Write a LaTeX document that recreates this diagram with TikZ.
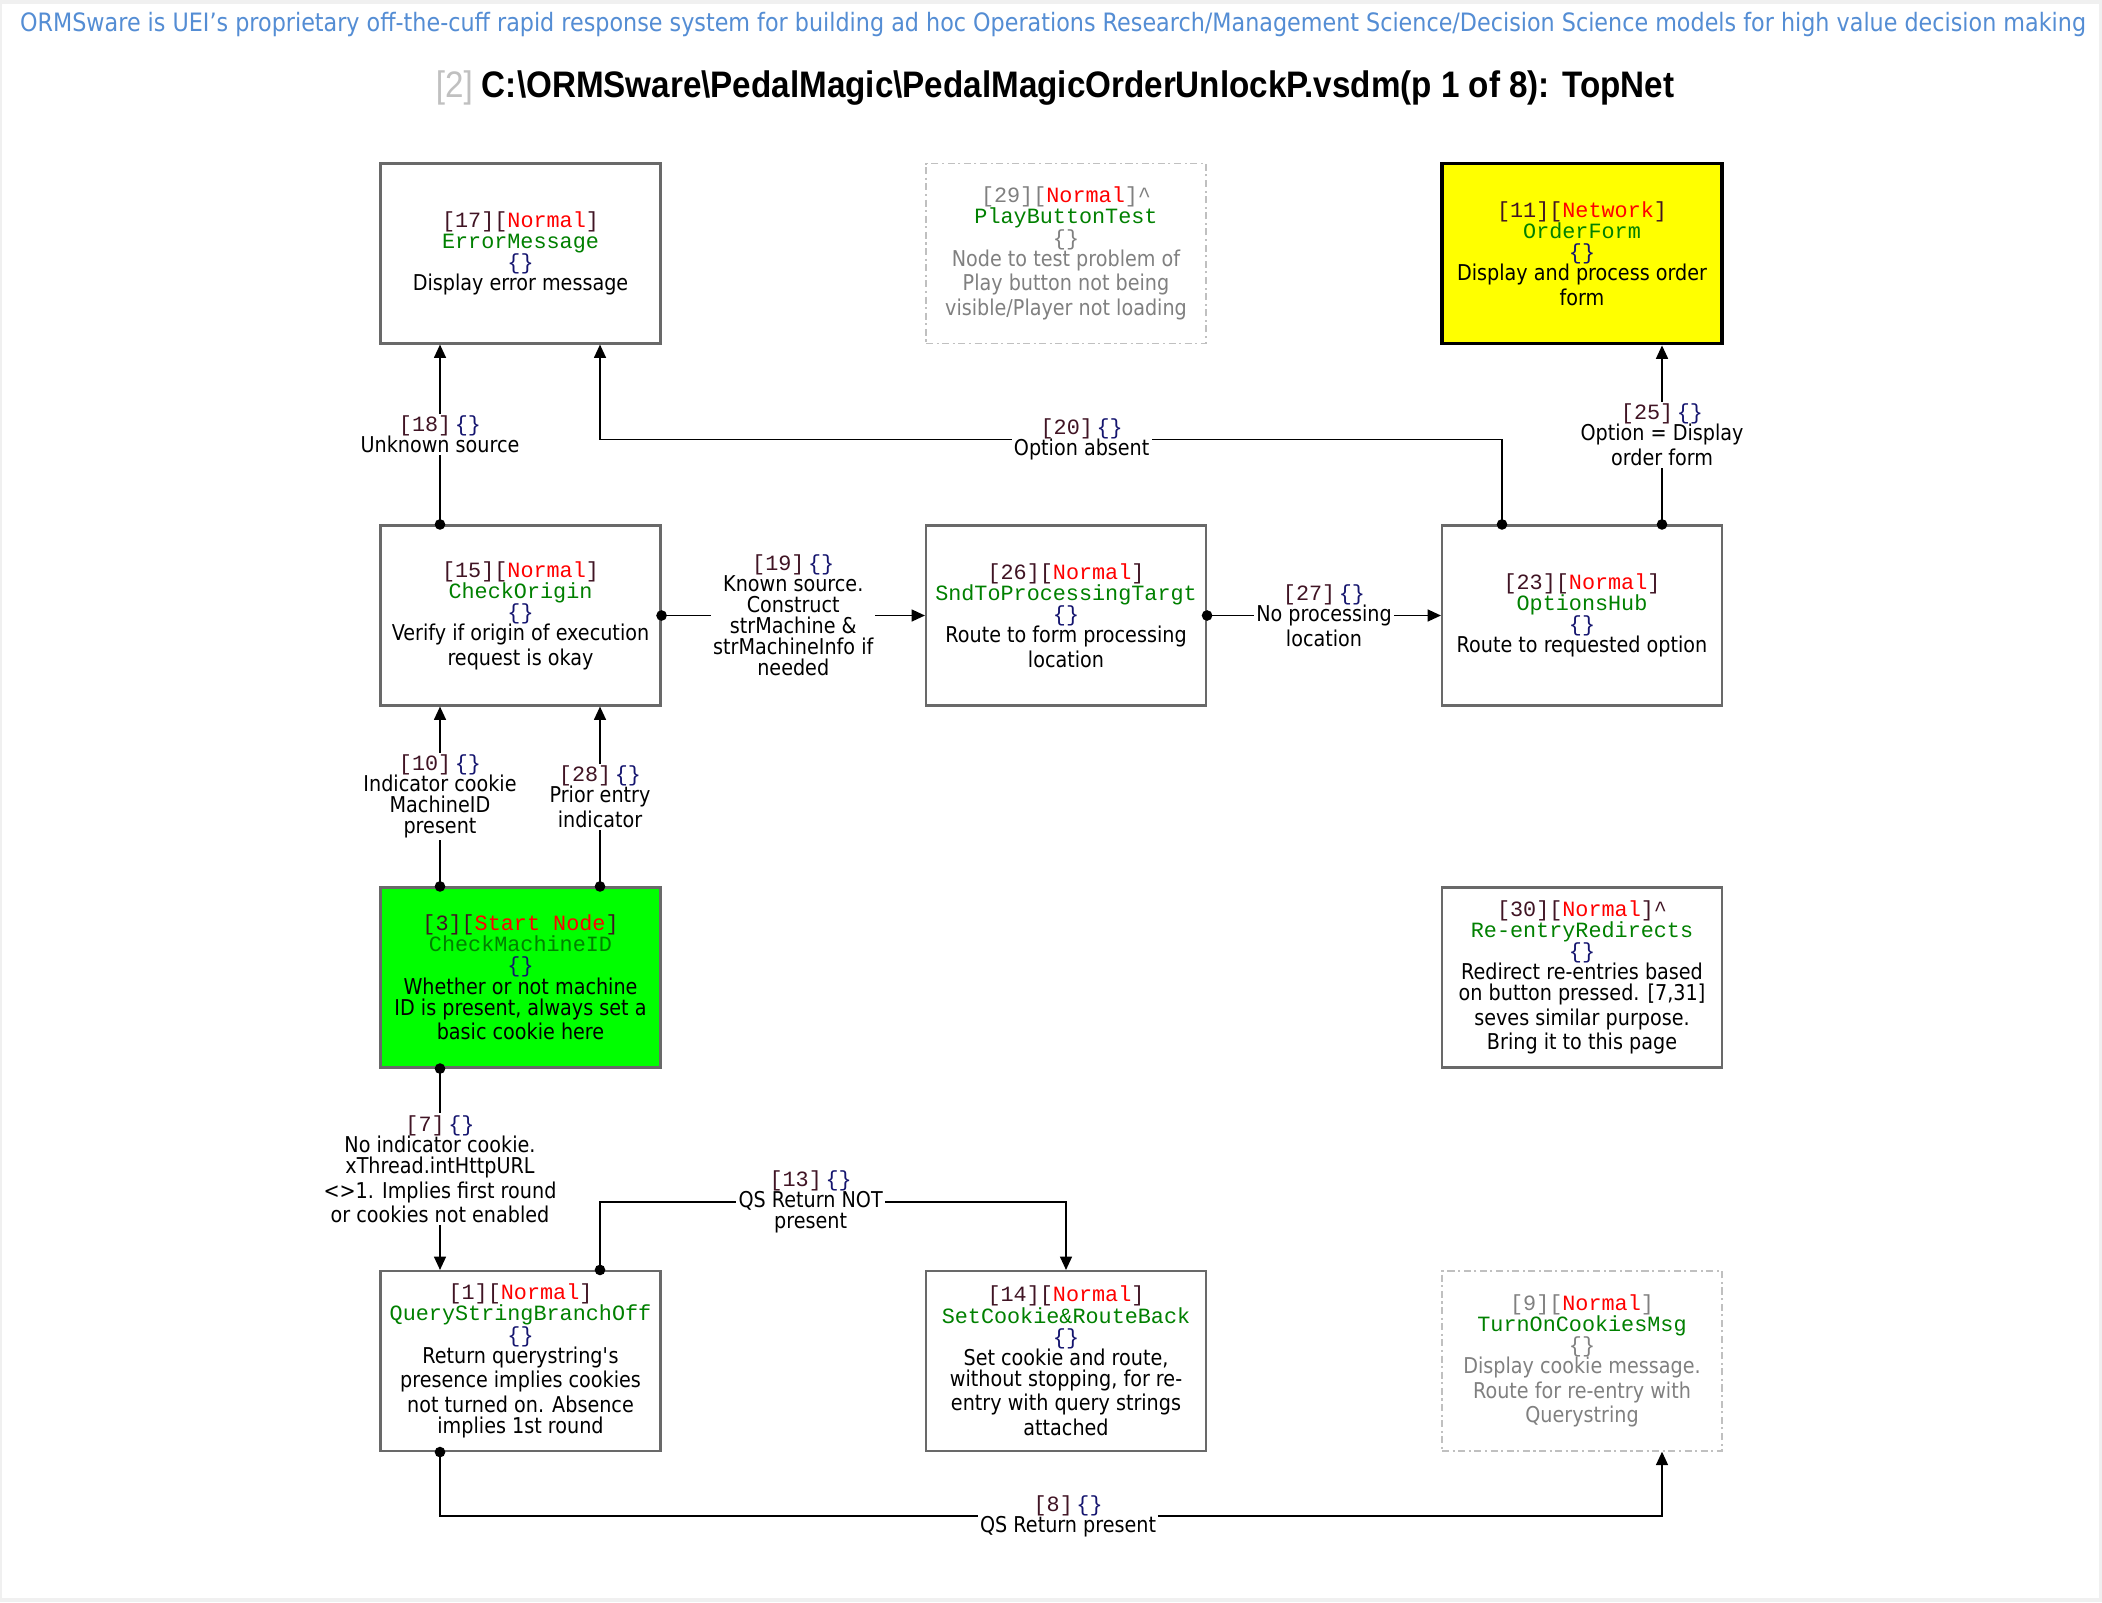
\documentclass[tikz,border=0pt]{standalone}
\usepackage{fontspec}
\setmainfont{DejaVu Sans}[FakeStretch=0.88]
\newfontfamily\monofont{Liberation Mono}
\newfontfamily\titlefont{Liberation Sans}[FakeStretch=0.9]
\usetikzlibrary{arrows.meta,positioning}
\usepackage{xcolor}
\definecolor{ormblue}{RGB}{84,141,212}
\definecolor{ormid}{RGB}{64,20,36}
\definecolor{ormbrace}{RGB}{20,20,110}
\definecolor{ormname}{RGB}{0,128,0}
\definecolor{ormline}{RGB}{105,105,105}
\definecolor{ormdim}{RGB}{128,128,128}
\definecolor{ormdash}{RGB}{192,192,192}
\definecolor{ormframe}{RGB}{240,240,240}
\definecolor{ormstart}{RGB}{0,255,0}
\definecolor{ormnet}{RGB}{255,255,0}

\newcommand{\nhead}[2]{{\monofont\color{ormid}[#1][\textcolor{red}{#2}]}}
\newcommand{\ghead}[1]{{\monofont[#1][\textcolor{red}{Normal}]}}
\newcommand{\nname}[1]{{\monofont\textcolor{ormname}{#1}}}
\newcommand{\nbr}{{\monofont\textcolor{ormbrace}{\{\}}}}
\newcommand{\lhead}[1]{{\monofont\textcolor{ormid}{[#1]}\,\textcolor{ormbrace}{\{\}}}}

\begin{document}
\begin{tikzpicture}[
  font=\fontsize{6.2}{6}\selectfont,
  box/.style={draw=ormline, fill=white, line width=0.6pt, minimum width=2.8cm,
    minimum height=1.8cm, align=center, inner sep=1pt, text=black},
  ghost/.style={box, draw=ormdash, dash pattern=on 2pt off 1pt on 0.6pt off 1pt,
    line width=0.4pt, text=ormdim},
  lbl/.style={fill=white, align=center, inner sep=0.6pt},
  conn/.style={draw=black, line width=0.45pt,
    {Circle[length=3pt]}-{Triangle[length=3.8pt,width=3.4pt]}, shorten <=-1.5pt}
]
\useasboundingbox (0,0) rectangle (21.02,-16.02);
\fill[ormframe] (0,0) rectangle (21.02,-16.02);
\fill[white] (0.02,-0.04) rectangle (20.99,-15.98);

\node[text=ormblue, font=\fontsize{7.2}{8}\selectfont] (tagline) at (10.53,-0.25)
  {ORMSware is UEI’s proprietary off-the-cuff rapid response system for building ad hoc Operations Research/Management Science/Decision Science models for high value decision making};
\node[font=\titlefont\fontsize{10.5}{12}\selectfont] (title) at (10.55,-0.88)
  {\textcolor{ormdash}{[2]} \textbf{C:\textbackslash ORMSware\textbackslash PedalMagic\textbackslash PedalMagicOrderUnlockP.vsdm(p 1 of 8): TopNet}};

\node[box] (err) at (5.205,-2.535) {\nhead{17}{Normal}\\\nname{ErrorMessage}\\\nbr\\
  Display error message};
\node[ghost] (play) at (10.66,-2.535) {\ghead{29}{\monofont\textasciicircum}\\\nname{PlayButtonTest}\\{\monofont\{\}}\\
  Node to test problem of\\Play button not being\\visible/Player not loading};
\node[box, fill=ormnet, draw=black, line width=1.1pt] (order) at (15.82,-2.535)
  {\nhead{11}{Network}\\\nname{OrderForm}\\\nbr\\Display and process order\\form};

\node[box] (origin) at (5.205,-6.155) {\nhead{15}{Normal}\\\nname{CheckOrigin}\\\nbr\\
  Verify if origin of execution\\request is okay};
\node[box] (sndproc) at (10.66,-6.155) {\nhead{26}{Normal}\\\nname{SndToProcessingTargt}\\\nbr\\
  Route to form processing\\location};
\node[box] (hub) at (15.82,-6.155) {\nhead{23}{Normal}\\\nname{OptionsHub}\\\nbr\\
  Route to requested option};

\node[box, fill=ormstart] (checkid) at (5.205,-9.775) {\nhead{3}{Start Node}\\\nname{CheckMachineID}\\\nbr\\
  Whether or not machine\\ID is present, always set a\\basic cookie here};
\node[box] (reentry) at (15.82,-9.775) {\nhead{30}{Normal}{\monofont\color{ormid}\textasciicircum}\\\nname{Re-entryRedirects}\\\nbr\\
  Redirect re-entries based\\on button pressed. [7,31]\\seves similar purpose.\\Bring it to this page};

\node[box] (qsbranch) at (5.205,-13.61) {\nhead{1}{Normal}\\\nname{QueryStringBranchOff}\\\nbr\\
  Return querystring\textquotesingle s\\presence implies cookies\\not turned on. Absence\\implies 1st round};
\node[box] (setcookie) at (10.66,-13.61) {\nhead{14}{Normal}\\\nname{SetCookie\&RouteBack}\\\nbr\\
  Set cookie and route,\\without stopping, for re-\\entry with query strings\\attached};
\node[ghost] (cookiemsg) at (15.82,-13.61) {\ghead{9}\\\nname{TurnOnCookiesMsg}\\{\monofont\{\}}\\
  Display cookie message.\\Route for re-entry with\\Querystring};

\draw[conn] ([xshift=-8.05mm]origin.north) -- node[lbl]{\lhead{18}\\Unknown source} ([xshift=-8.05mm]err.south);
\draw[conn] ([xshift=-8mm]hub.north) -- ++(0,0.85)
  -| node[lbl, pos=0.233]{\lhead{20}\\Option absent} ([xshift=7.95mm]err.south);
\draw[conn] ([xshift=8mm]hub.north) -- node[lbl]{\lhead{25}\\Option = Display\\order form} ([xshift=8mm]order.south);
\draw[conn] (origin.east) -- node[lbl]{\lhead{19}\\Known source.\\Construct\\strMachine \&\\strMachineInfo if\\needed} (sndproc.west);
\draw[conn] (sndproc.east) -- node[lbl]{\lhead{27}\\No processing\\location} (hub.west);
\draw[conn] ([xshift=-8.05mm]checkid.north) -- node[lbl]{\lhead{10}\\Indicator cookie\\MachineID\\present} ([xshift=-8.05mm]origin.south);
\draw[conn] ([xshift=7.95mm]checkid.north) -- node[lbl]{\lhead{28}\\Prior entry\\indicator} ([xshift=7.95mm]origin.south);
\draw[conn] ([xshift=-8.05mm]checkid.south) -- node[lbl]{\lhead{7}\\No indicator cookie.\\xThread.intHttpURL\\<>1. Implies first round\\or cookies not enabled} ([xshift=-8.05mm]qsbranch.north);
\draw[conn] ([xshift=7.95mm]qsbranch.north) -- ++(0,0.68)
  -| node[lbl, pos=0.226]{\lhead{13}\\QS Return NOT\\present} (setcookie.north);
\draw[conn] ([xshift=-8.05mm]qsbranch.south) -- ++(0,-0.64)
  -| node[lbl, pos=0.257]{\lhead{8}\\QS Return present} ([xshift=8mm]cookiemsg.south);
\end{tikzpicture}
\end{document}
